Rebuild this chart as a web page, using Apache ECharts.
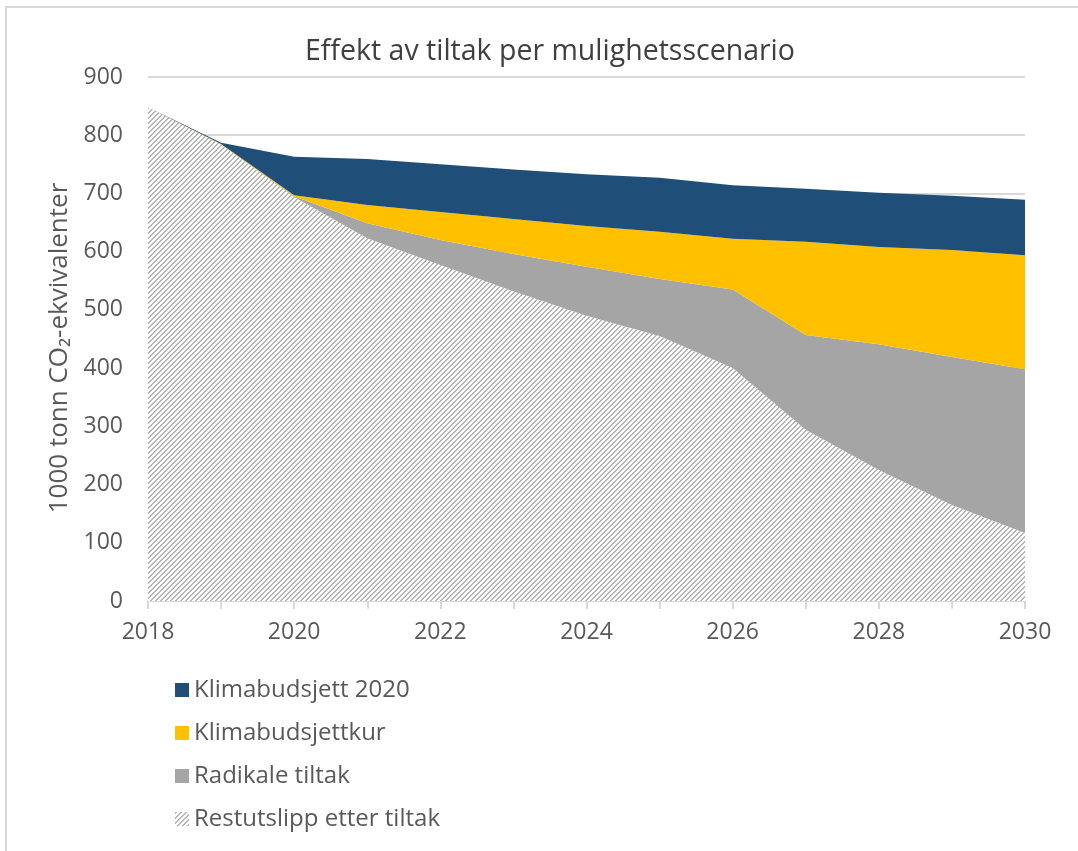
<!DOCTYPE html>
<html>
<head>
    <meta charset="utf-8">
    <title>Effekt av tiltak</title>
    <script src="https://cdn.jsdelivr.net/npm/echarts@6/dist/echarts.min.js"></script>
    <style>
        html, body { margin: 0; padding: 0; background: #fff; }
        .frame {
            position: absolute; left: 5px; top: 6px; width: 1100px; height: 900px;
            border-top: 2px solid #d9d9d9; border-left: 2px solid #d9d9d9;
            box-sizing: border-box;
        }
        #main { position: absolute; left: 0; top: 0; width: 1078px; height: 851px; }
    </style>
</head>
<body>
<div class="frame"></div>
<div id="main"></div>
<script>
    // years on the x axis
    var years = ['2018', '2019', '2020', '2021', '2022', '2023', '2024', '2025', '2026', '2027', '2028', '2029', '2030'];
    // stacked values, bottom to top (1000 tonn CO2-ekv.)
    var restutslipp = [848, 784, 694, 623, 577, 532, 490, 455, 400, 294, 225, 165, 117];
    var radikale = [0, 0, 1, 26, 43, 64, 84, 98, 135, 163, 216, 254, 281];
    var budsjettkur = [0, 1, 2, 31, 48, 60, 70, 81, 87, 160, 167, 184, 196];
    var budsjett2020 = [0, 2, 66, 79, 82, 85, 89, 93, 92, 91, 93, 93, 95];

    var txt = '#595959';
    var font = '"Open Sans", sans-serif';

    // hatch fill "////"
    function hatch(n, w, g) {
        var c = document.createElement('canvas');
        c.width = n; c.height = n;
        var ctx = c.getContext('2d');
        var img = ctx.createImageData(n, n);
        for (var y = 0; y < n; y++) {
            for (var x = 0; x < n; x++) {
                var i = (y * n + x) * 4;
                var v = ((x + y) % n) < w ? g : 255;
                img.data[i] = v; img.data[i + 1] = v; img.data[i + 2] = v; img.data[i + 3] = 255;
            }
        }
        ctx.putImageData(img, 0, 0);
        return c;
    }
    var hatchImg = hatch(5, 2, 182);

    function area(name, data, fill) {
        return {
            name: name,
            type: 'line',
            stack: 'total',
            data: data,
            symbol: 'none',
            lineStyle: { width: 0 },
            areaStyle: { color: fill, opacity: 1 },
            itemStyle: { color: fill },
            emphasis: { disabled: true }
        };
    }

    var myChart = echarts.init(document.getElementById('main'));
    myChart.setOption({
        animation: false,
        title: {
            text: 'Effekt av tiltak per mulighetsscenario',
            left: 545, top: 32, textAlign: 'center',
            textStyle: { fontFamily: font, fontSize: 28.5, fontWeight: 'normal', color: '#404040' }
        },
        // y axis title, rotated
        graphic: [{
            type: 'text',
            x: 60, y: 348,
            rotation: Math.PI / 2,
            style: {
                text: '1000 tonn CO\u2082-ekvivalenter',
                fontFamily: font, fontSize: 26, fill: txt,
                align: 'center', verticalAlign: 'middle'
            }
        }],
        legend: {
            orient: 'vertical',
            left: 170, top: 673,
            itemGap: 19,
            itemWidth: 14, itemHeight: 14,
            icon: 'rect',
            data: ['Klimabudsjett 2020', 'Klimabudsjettkur', 'Radikale tiltak',
                { name: 'Restutslipp etter tiltak', itemStyle: { color: { image: hatchImg, repeat: 'repeat' } } }],
            textStyle: { fontFamily: font, fontSize: 24, color: txt }
        },
        grid: { left: 148, right: 53, top: 77, bottom: 250 },
        xAxis: {
            type: 'category',
            boundaryGap: false,
            data: years,
            axisLine: { lineStyle: { color: '#d9d9d9', width: 2 } },
            axisTick: { show: true, interval: 0, length: 8, lineStyle: { color: '#d9d9d9', width: 2 } },
            axisLabel: { interval: 1, margin: 20, fontFamily: font, fontSize: 23, color: txt }
        },
        yAxis: {
            type: 'value',
            min: 0, max: 900, interval: 100,
            axisLine: { show: false },
            axisTick: { show: false },
            axisLabel: { margin: 25, fontFamily: font, fontSize: 23, color: txt },
            splitLine: { lineStyle: { color: '#d9d9d9', width: 2 } }
        },
        series: [
            area('Restutslipp etter tiltak', restutslipp, { image: hatchImg, repeat: 'repeat' }),
            area('Radikale tiltak', radikale, '#a5a5a5'),
            area('Klimabudsjettkur', budsjettkur, '#ffc000'),
            area('Klimabudsjett 2020', budsjett2020, '#1f4e79')
        ]
    });
</script>
</body>
</html>
